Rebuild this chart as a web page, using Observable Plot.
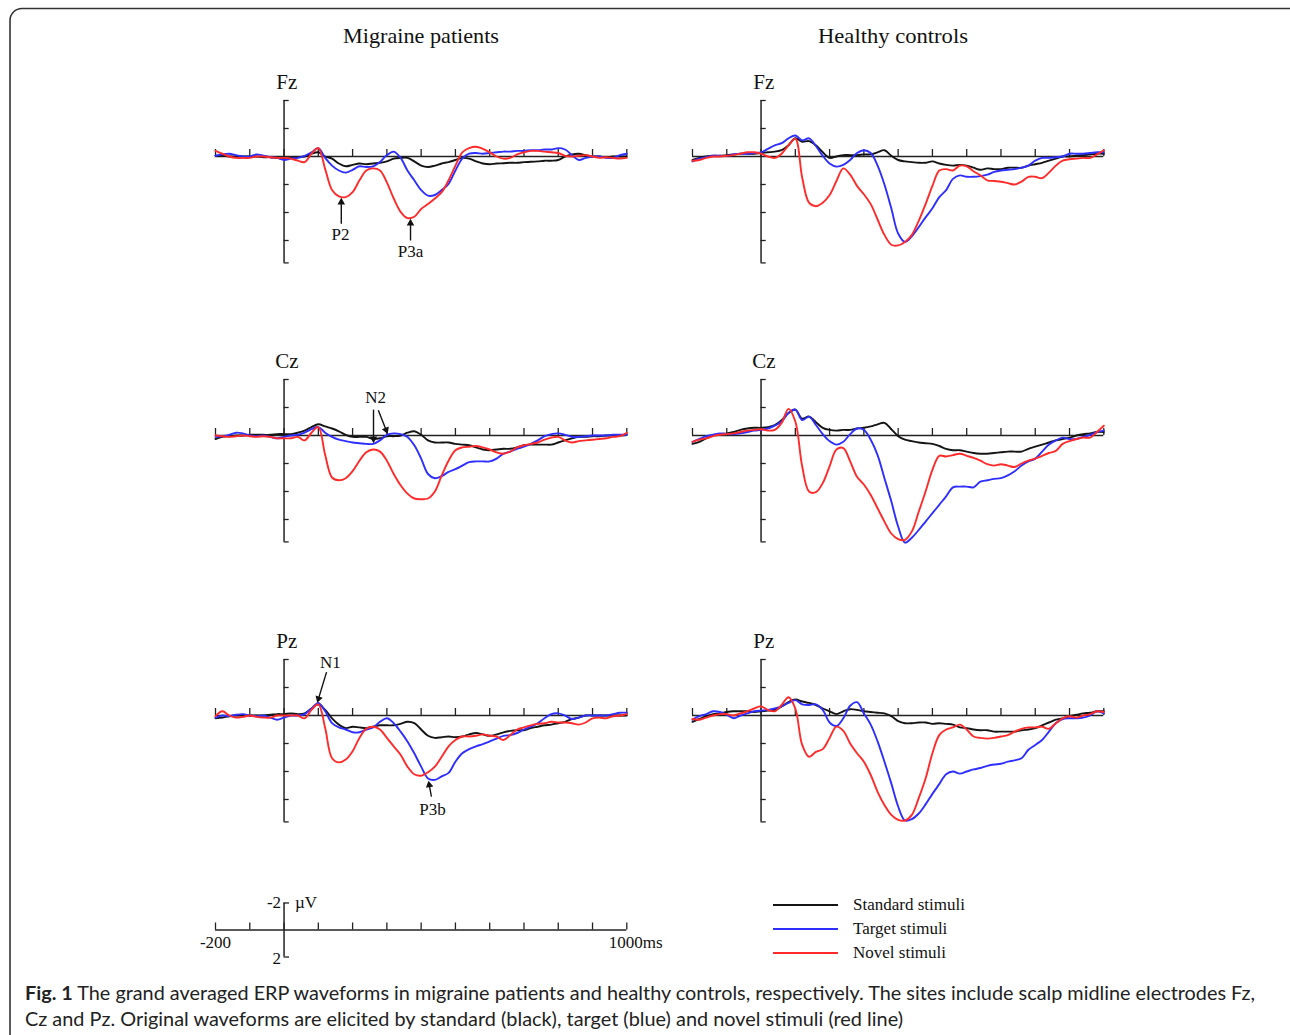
<!DOCTYPE html>
<html>
<head>
<meta charset="utf-8">
<script src="https://cdn.jsdelivr.net/npm/d3@7"></script>
<script src="https://cdn.jsdelivr.net/npm/@observablehq/plot@0.6"></script>
<style>
  body { margin: 0; background: #fff; }
  #page { position: relative; width: 1290px; height: 1035px; overflow: hidden; background: #fff; }
</style>
</head>
<body>
<div id="page"></div>
<script>
// ---------------- DATA ----------------
const groups = ["Migraine patients", "Healthy controls"];
const sites = ["Fz", "Cz", "Pz"];
const seriesNames = ["Standard stimuli", "Target stimuli", "Novel stimuli"];
const seriesColors = ["#141414", "#2e2eff", "#ff2a2a"];

// sample times (ms)
const times = [-200,-180,-160,-140,-120,-100,-80,-60,-40,-20,
  0,20,40,60,80,100,120,140,160,180,
  200,220,240,260,280,300,320,340,360,380,
  400,420,440,460,480,500,520,540,560,580,
  600,620,640,660,680,700,720,740,760,780,
  800,820,840,860,880,900,920,940,960,980,
  1000];
const xTicks = [-200,-100,0,100,200,300,400,500,600,700,800,900,1000];
const yTicks = [-4,-2,2,4,6,7.6];

// amplitudes (µV), positive plotted downward
const fzMigStd = [-0.05,-0.05,0,0,0,0,0,0.05,0.05,0.1,
  0.15,0.1,0.05,0,-0.2,-0.3,0,0.15,0.5,0.7,
  0.6,0.5,0.55,0.5,0.45,0.35,0.15,0.1,0.1,0.35,
  0.65,0.75,0.65,0.5,0.4,0.25,0.1,0.15,0.35,0.5,
  0.55,0.5,0.48,0.45,0.45,0.4,0.38,0.35,0.3,0.3,
  0.25,0,-0.15,-0.2,-0.1,0,0,0.05,0,0,
  0];
const fzMigTgt = [-0.05,-0.15,-0.2,-0.1,0,0,-0.15,-0.05,0.05,0.1,
  0.25,0.15,0.1,-0.05,-0.3,-0.6,0.1,0.65,1.0,1.15,
  0.95,0.7,0.75,0.7,0.4,-0.1,-0.35,0.1,1.0,1.7,
  2.4,2.8,2.75,2.4,1.95,1.0,0.15,-0.2,-0.25,-0.2,
  -0.25,-0.3,-0.35,-0.35,-0.4,-0.4,-0.45,-0.45,-0.5,-0.5,
  -0.6,-0.5,-0.1,0.25,0.1,0,0,0.1,0.1,-0.1,
  -0.2];
const fzMigNov = [-0.4,-0.2,0,0.1,0.1,0.1,0,0,0.05,0.1,
  0.1,0.15,0.3,0.4,-0.2,-0.6,0.9,2.4,2.85,2.9,
  2.55,1.7,1.0,0.85,1.0,1.85,3.0,3.95,4.4,4.3,
  3.75,3.4,3.0,2.55,1.7,0.65,-0.3,-0.6,-0.7,-0.55,
  -0.3,0,0.15,0.1,-0.15,-0.3,-0.4,-0.4,-0.35,-0.3,
  -0.25,-0.05,0,-0.05,-0.1,0,0.1,0.05,0.1,0.15,
  0.1];

const fzHcStd = [0.25,0.1,0,-0.05,-0.05,-0.1,-0.15,-0.2,-0.2,-0.2,
  -0.25,-0.3,-0.35,-0.45,-0.8,-1.3,-1.05,-1.1,-0.8,-0.3,
  0.1,0,-0.1,-0.1,-0.1,-0.15,-0.15,-0.3,-0.45,-0.05,
  0.25,0.35,0.4,0.45,0.45,0.35,0.5,0.6,0.65,0.6,
  0.65,0.8,0.95,0.85,0.9,0.9,0.8,0.8,0.8,0.65,
  0.55,0.45,0.3,0.15,0,0,-0.05,-0.1,-0.15,-0.2,
  -0.2];
const fzHcTgt = [0.35,0.15,0.05,-0.05,-0.05,-0.05,-0.15,-0.2,-0.2,-0.25,
  -0.3,-0.55,-0.8,-0.95,-1.3,-1.5,-1.15,-1.3,-0.75,-0.05,
  0.5,0.72,0.6,0.25,-0.25,-0.45,-0.25,0.65,2.0,3.7,
  5.5,6.1,5.7,5.05,4.35,3.7,2.9,2.4,1.6,1.35,
  1.45,1.45,1.4,1.3,1.1,1.0,0.95,0.9,0.8,0.65,
  0.3,0.1,0.1,0.05,0,-0.2,-0.2,-0.2,-0.25,-0.3,
  -0.3];
const fzHcNov = [0.3,0.25,0.1,0,0,-0.05,-0.1,-0.2,-0.3,-0.3,
  -0.2,0,0.1,-0.2,-0.8,-1.27,1.5,3.3,3.55,3.3,
  2.75,1.75,0.85,1.3,2.1,2.7,3.4,4.5,5.6,6.3,
  6.35,6.1,5.6,4.6,3.4,2.1,1.0,0.9,1.0,0.65,
  0.7,1.05,1.35,1.7,1.75,1.8,1.9,2.0,1.8,1.45,
  1.45,1.55,1.15,0.65,0.3,0.2,0.15,0.1,0.1,-0.15,
  -0.45];

const czMigStd = [0.25,0.1,0.05,0,0,-0.05,-0.05,-0.05,-0.05,-0.1,
  -0.1,-0.1,-0.2,-0.35,-0.6,-0.8,-0.65,-0.5,-0.3,-0.05,
  0.1,0.1,0.1,0.25,0.2,0.05,0.05,0,-0.2,-0.3,
  -0.05,0.35,0.5,0.5,0.5,0.6,0.65,0.7,0.85,1.0,
  1.05,1.0,0.95,0.95,0.85,0.7,0.65,0.65,0.65,0.65,
  0.5,0.35,0.2,0.1,0.1,0.05,0.05,0,0,0,
  -0.05];
const czMigTgt = [0.1,0.05,-0.05,-0.2,-0.15,0,0.05,0,0.1,0.2,
  0.1,0,-0.05,-0.2,-0.45,-0.6,-0.2,0.1,0.3,0.4,
  0.5,0.55,0.6,0.6,0.35,-0.05,-0.15,-0.1,0.1,0.7,
  1.65,2.75,3.05,2.9,2.6,2.4,2.15,1.9,1.85,1.85,
  1.85,1.65,1.3,1.15,0.95,0.8,0.6,0.35,0.05,-0.1,
  -0.15,-0.05,0.1,0.1,0.05,0,0,0,-0.05,-0.05,
  -0.05];
const czMigNov = [0,0.05,0.1,0.05,0,0.05,0.1,0.05,0.1,0.2,
  0.2,0.2,0.1,0.35,-0.2,-0.6,1.4,3.0,3.2,3.05,
  2.55,1.8,1.2,1.0,1.15,1.8,2.75,3.55,4.15,4.5,
  4.55,4.5,4.0,2.85,1.8,1.05,0.85,0.8,0.75,0.85,
  1.0,1.2,1.3,1.15,0.85,0.7,0.6,0.5,0.3,0.15,
  0.1,0.35,0.5,0.4,0.35,0.3,0.25,0.2,0.1,0.05,
  -0.2];

const czHcStd = [0.6,0.45,0.2,0,-0.1,-0.15,-0.25,-0.4,-0.5,-0.55,
  -0.55,-0.6,-0.75,-1.1,-1.6,-1.85,-1.2,-1.35,-0.95,-0.55,
  -0.4,-0.35,-0.4,-0.4,-0.5,-0.55,-0.65,-0.8,-0.9,-0.45,
  0.05,0.3,0.4,0.5,0.55,0.6,0.75,0.95,1.05,1.05,
  1.15,1.25,1.3,1.3,1.25,1.2,1.15,1.15,1.15,0.95,
  0.8,0.65,0.5,0.35,0.25,0.15,0,-0.1,-0.15,-0.25,
  -0.25];
const czHcTgt = [0.45,0.25,0.05,-0.05,-0.15,-0.1,-0.1,-0.15,-0.25,-0.35,
  -0.4,-0.5,-0.7,-1.0,-1.6,-1.85,-1.1,-1.35,-0.75,-0.1,
  0.4,0.65,0.45,-0.1,-0.5,-0.4,0.3,1.4,3.05,4.7,
  6.5,7.65,7.3,6.75,6.15,5.55,4.95,4.35,3.7,3.65,
  3.65,3.7,3.3,3.2,3.1,3.05,2.85,2.55,2.15,1.85,
  1.65,1.15,0.65,0.35,0.15,0.25,0.25,0.1,-0.05,-0.25,
  -0.35];
const czHcNov = [0.45,0.3,0.2,0.05,-0.05,-0.1,-0.15,-0.25,-0.35,-0.4,
  -0.45,-0.35,-0.4,-0.9,-1.9,-1.0,2.2,4.0,4.05,3.4,
  2.2,1.0,0.9,1.85,2.95,3.5,4.25,5.2,6.15,7.0,
  7.4,7.45,6.85,5.45,4.0,2.45,1.45,1.5,1.4,1.3,
  1.45,1.6,1.8,2.05,2.15,2.05,2.15,2.25,2.0,1.8,
  1.65,1.45,1.25,1.1,0.6,0.4,0.25,0.15,0.15,-0.25,
  -0.7];

const pzMigStd = [0.2,0.15,0.05,0,0,0,0,0,-0.05,-0.1,
  -0.1,-0.15,-0.1,-0.15,-0.5,-0.8,-0.4,0.2,0.65,0.9,
  0.8,0.85,0.9,0.8,0.7,0.7,0.7,0.6,0.45,0.55,
  1.0,1.45,1.6,1.55,1.5,1.55,1.5,1.35,1.25,1.35,
  1.45,1.35,1.2,1.1,1.05,1.05,0.9,0.8,0.7,0.65,
  0.55,0.45,0.25,0.15,0,0,0,0,0,0,
  0];
const pzMigTgt = [0.15,0,0.05,-0.05,-0.1,0,0.05,0,0.15,0.3,
  0.15,0,0,-0.1,-0.5,-0.9,-0.3,0.55,0.85,1.0,
  1.2,1.2,1.0,0.85,0.45,0.2,0.55,1.15,1.85,2.7,
  3.65,4.5,4.6,4.35,4.1,3.3,2.7,2.4,2.2,2.05,
  1.85,1.65,1.45,1.4,1.25,1.0,0.8,0.55,0.2,-0.1,
  -0.15,0,0.25,0.15,0,0,0,0,-0.1,-0.2,
  -0.2];
const pzMigNov = [0.05,-0.3,0,0.15,0.1,0,0.1,0.15,0.15,0,
  0,0,0,0.2,-0.4,-0.8,0.9,3.05,3.35,3.15,
  2.55,1.6,0.95,0.8,1.0,1.6,2.2,2.8,3.65,4.2,
  4.3,4.05,3.65,2.95,2.2,1.75,1.5,1.5,1.45,1.35,
  1.45,1.5,1.75,1.4,1.0,0.85,0.7,0.6,0.55,0.45,
  0.5,0.5,0.55,0.65,0.5,0.2,0.15,0.2,0.05,0,
  -0.1];

const pzHcStd = [0.45,0.25,0.05,-0.1,-0.15,-0.25,-0.3,-0.3,-0.3,-0.25,
  -0.3,-0.35,-0.4,-0.65,-0.95,-1.15,-1.0,-0.9,-0.75,-0.5,
  -0.3,-0.1,-0.3,-0.45,-0.4,-0.3,-0.25,-0.2,-0.15,0.05,
  0.4,0.55,0.55,0.5,0.5,0.6,0.55,0.6,0.65,0.85,
  0.9,1.0,1.05,1.05,1.15,1.15,1.15,1.15,1.05,1.0,
  0.9,0.7,0.5,0.3,0.2,0.05,-0.05,-0.15,-0.2,-0.3,
  -0.3];
const pzHcTgt = [0.3,0.05,-0.1,-0.3,-0.25,-0.05,0.2,0,-0.15,-0.3,
  -0.35,-0.4,-0.5,-0.65,-0.9,-1.1,-0.8,-0.75,-0.8,-0.4,
  0.5,0.75,0.2,-0.7,-0.95,-0.15,0.65,1.85,3.3,4.85,
  6.5,7.5,7.4,7.0,6.35,5.6,4.9,4.2,4.0,4.15,
  4.0,3.85,3.75,3.6,3.5,3.45,3.3,3.2,3.05,2.45,
  2.1,1.75,1.15,0.55,0.25,0.2,0.2,0.15,0,-0.3,
  -0.15];
const pzHcNov = [0.25,0.3,0.15,0,-0.1,-0.1,0,-0.15,-0.3,-0.5,
  -0.65,-0.4,-0.3,-0.75,-1.3,-0.5,2.1,2.95,2.6,2.4,
  1.6,0.8,1.1,2.0,2.7,3.3,4.25,5.45,6.4,7.1,
  7.45,7.5,7.1,5.9,4.5,2.7,1.4,1.0,0.85,0.65,
  1.0,1.5,1.6,1.65,1.6,1.5,1.4,1.15,0.95,0.85,
  0.85,0.8,0.95,0.55,0.2,0.05,0.15,0,-0.1,-0.3,
  -0.25];

// component labels (ms, µV) and arrows (tail -> tip)
const fzLabels = [{t: 165, v: 5.6, text: "P2"}, {t: 369, v: 6.8, text: "P3a"}];
const fzArrows = [{t1: 167, v1: 4.8, t2: 167, v2: 3.05}, {t1: 369, v1: 6.0, t2: 369, v2: 4.55}];
const czLabels = [{t: 267, v: -2.7, text: "N2"}];
const czArrows = [{t1: 261, v1: -1.85, t2: 261, v2: 0.45}, {t1: 275, v1: -1.8, t2: 301, v2: -0.2}];
const pzLabels = [{t: 135, v: -3.8, text: "N1"}, {t: 433, v: 6.7, text: "P3b"}];
const pzArrows = [{t1: 124, v1: -3.1, t2: 98, v2: -1.0}, {t1: 430, v1: 5.8, t2: 422, v2: 4.75}];

// scale bar labels
const scaleLabels = [
  {t: 0, v: -2, text: "-2", anchor: "end", dx: -3},
  {t: 0, v: -2, text: "µV", anchor: "start", dx: 11},
  {t: 0, v: 2.15, text: "2", anchor: "end", dx: -3},
  {t: -200, v: 0.95, text: "-200", anchor: "middle", dx: 0},
  {t: 1000, v: 0.95, text: "1000ms", anchor: "start", dx: -18}
];

const captionBold = "Fig. 1";
const captionLine1 = " The grand averaged ERP waveforms in migraine patients and healthy controls, respectively. The sites include scalp midline electrodes Fz,";
const captionLine2 = "Cz and Pz. Original waveforms are elicited by standard (black), target (blue) and novel stimuli (red line)";

// ---------------- LAYOUT ----------------
const page = document.getElementById("page");
const SERIF = "'Liberation Serif', 'Times New Roman', serif";
const AX = "#222";
const colLeft = [195, 671.7];
const rowZero = [156, 435, 715.3];
const PX_PER_UV = 14;
const PX_PER_MS = 411.3 / 1200;
const Y_TOP = -6.5, Y_BOT = 8.5;

function place(node, left, top) {
  node.style.position = "absolute";
  node.style.left = left + "px";
  node.style.top = top + "px";
  page.appendChild(node);
}

// split each annotation arrow into a shaft and a filled, rotated head
function arrowParts(arrows) {
  return arrows.map(a => {
    const dx = (a.t2 - a.t1) * PX_PER_MS, dy = (a.v2 - a.v1) * PX_PER_UV;
    const len = Math.hypot(dx, dy), ux = dx / len, uy = dy / len;
    const back = 3;
    return {
      ...a,
      tc: a.t2 - ux * back / PX_PER_MS,
      vc: a.v2 - uy * back / PX_PER_UV,
      angle: Math.atan2(ux, -uy) * 180 / Math.PI
    };
  });
}

function makePanel(site, std, tgt, nov, labels, arrows, left, zeroY) {
  const rows = (arr, s) => arr.map((v, i) => ({t: times[i], v, s}));
  const heads = arrowParts(arrows);
  const chart = Plot.plot({
    width: 440, height: (Y_BOT - Y_TOP) * PX_PER_UV,
    marginLeft: 20, marginRight: 8.7, marginTop: 0, marginBottom: 0,
    x: {domain: [-200, 1000], axis: null},
    y: {domain: [Y_TOP, Y_BOT], reverse: true, axis: null},
    color: {domain: seriesNames, range: seriesColors},
    style: {background: "transparent", overflow: "visible", fontFamily: SERIF},
    marks: [
      Plot.ruleY([0], {x1: -200, x2: 1000, stroke: AX, strokeWidth: 1.5}),
      Plot.ruleX(xTicks, {y1: 0, y2: -0.5, stroke: AX, strokeWidth: 1.3}),
      Plot.ruleX([0], {y1: -4, y2: 7.6, stroke: AX, strokeWidth: 1.5}),
      Plot.ruleY(yTicks, {x1: 0, x2: 15, stroke: AX, strokeWidth: 1.3}),
      Plot.line(rows(std, seriesNames[0]), {x: "t", y: "v", stroke: "s", curve: "catmull-rom", strokeWidth: 1.9}),
      Plot.line(rows(tgt, seriesNames[1]), {x: "t", y: "v", stroke: "s", curve: "catmull-rom", strokeWidth: 1.9}),
      Plot.line(rows(nov, seriesNames[2]), {x: "t", y: "v", stroke: "s", curve: "catmull-rom", strokeWidth: 1.9}),
      Plot.text([site], {x: 8, y: -5.3, text: d => d, fontSize: 21, fill: "#111", textAnchor: "middle"}),
      Plot.link(heads, {x1: "t1", y1: "v1", x2: "tc", y2: "vc", stroke: "#111", strokeWidth: 1.4}),
      Plot.dot(heads, {x: "tc", y: "vc", symbol: "triangle2", r: 3.6, fill: "#111", stroke: "none", rotate: "angle"}),
      Plot.text(labels, {x: "t", y: "v", text: "text", fontSize: 17, fill: "#111", textAnchor: "middle"})
    ]
  });
  place(chart, left, zeroY + Y_TOP * PX_PER_UV);
}

const panelData = [
  [["Fz", fzMigStd, fzMigTgt, fzMigNov, fzLabels, fzArrows], ["Fz", fzHcStd, fzHcTgt, fzHcNov, [], []]],
  [["Cz", czMigStd, czMigTgt, czMigNov, czLabels, czArrows], ["Cz", czHcStd, czHcTgt, czHcNov, [], []]],
  [["Pz", pzMigStd, pzMigTgt, pzMigNov, pzLabels, pzArrows], ["Pz", pzHcStd, pzHcTgt, pzHcNov, [], []]]
];

// frame, titles, legend, caption (background layer)
const over = d3.create("svg").attr("width", 1290).attr("height", 1035);
over.append("rect").attr("x", 10).attr("y", 8.5).attr("width", 1300).attr("height", 1100)
  .attr("rx", 12).attr("fill", "none").attr("stroke", "#333").attr("stroke-width", 1.6);
const titleX = [421, 893], titleW = [156, 150];
groups.forEach((g, i) => {
  over.append("text").attr("x", titleX[i]).attr("y", 43).attr("text-anchor", "middle")
    .attr("font-family", SERIF).attr("font-size", 21).attr("fill", "#111")
    .attr("textLength", titleW[i]).attr("lengthAdjust", "spacingAndGlyphs").text(g);
});
const legY = [905, 929, 953];
seriesNames.forEach((s, i) => {
  over.append("line").attr("x1", 773).attr("x2", 838).attr("y1", legY[i]).attr("y2", legY[i])
    .attr("stroke", seriesColors[i]).attr("stroke-width", 2);
  over.append("text").attr("x", 853).attr("y", legY[i] + 5).attr("font-family", SERIF)
    .attr("font-size", 17).attr("fill", "#111").text(s);
});
const cap1 = over.append("text").attr("x", 25).attr("y", 1000).attr("font-family", "Lato, 'Open Sans', sans-serif")
  .attr("font-size", 19).attr("fill", "#222").attr("textLength", 1230).attr("lengthAdjust", "spacingAndGlyphs");
cap1.append("tspan").attr("font-weight", "bold").text(captionBold);
cap1.append("tspan").text(captionLine1);
over.append("text").attr("x", 25).attr("y", 1026).attr("font-family", "Lato, 'Open Sans', sans-serif")
  .attr("font-size", 19).attr("fill", "#222").attr("textLength", 878).attr("lengthAdjust", "spacingAndGlyphs")
  .text(captionLine2);
place(over.node(), 0, 0);

panelData.forEach((row, r) => row.forEach((p, c) => makePanel(...p, colLeft[c], rowZero[r])));

// scale bar
{
  const S = 13.5;
  const chart = Plot.plot({
    width: 440, height: 6 * S,
    marginLeft: 20, marginRight: 8.7, marginTop: 0, marginBottom: 0,
    x: {domain: [-200, 1000], axis: null},
    y: {domain: [-3, 3], reverse: true, axis: null},
    style: {background: "transparent", overflow: "visible", fontFamily: SERIF},
    marks: [
      Plot.ruleY([0], {x1: -200, x2: 1000, stroke: AX, strokeWidth: 1.5}),
      Plot.ruleX(xTicks, {y1: 0, y2: -0.52, stroke: AX, strokeWidth: 1.3}),
      Plot.ruleX([0], {y1: -2, y2: 2, stroke: AX, strokeWidth: 1.5}),
      Plot.ruleY([-2, 2], {x1: 0, x2: 16, stroke: AX, strokeWidth: 1.3}),
      ...scaleLabels.map(d => Plot.text([d], {x: "t", y: "v", text: "text", textAnchor: d.anchor, dx: d.dx, fontSize: 17, fill: "#111"}))
    ]
  });
  place(chart, 195, 929 - 3 * S);
}
</script>
</body>
</html>
